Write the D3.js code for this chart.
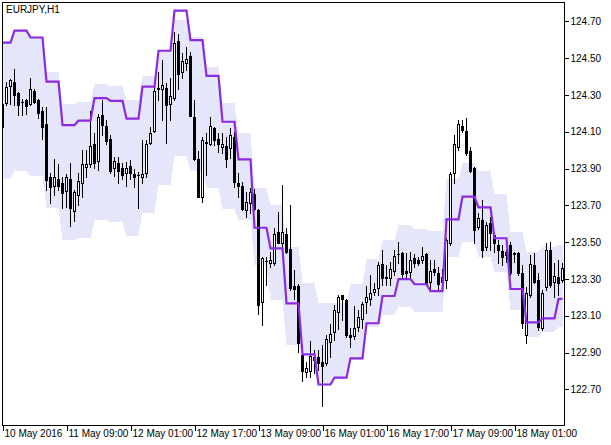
<!DOCTYPE html>
<html><head><meta charset="utf-8">
<script src="https://cdn.jsdelivr.net/npm/d3@7/dist/d3.min.js"></script>
<style>
body{margin:0;background:#fff}
svg{display:block}
text{font-family:"Liberation Sans",Arial,sans-serif;font-size:10px;fill:#000}
</style>
</head><body>
<svg id="chart" width="611" height="445"></svg>
<script>
const symbolLabel = "EURJPY,H1";
const timeLabels = ["10 May 2016","11 May 09:00","12 May 01:00","12 May 17:00","13 May 09:00","16 May 01:00","16 May 17:00","17 May 09:00","18 May 01:00"];
const timeLabelBars = [0,16,32,48,64,80,96,112,128];
const priceTicks = [122.70,122.90,123.10,123.30,123.50,123.70,123.90,124.10,124.30,124.50,124.70];

const opens = [
124.251,124.258,124.350,124.369,124.310,124.262,124.272,124.249,124.321,124.272,
124.213,124.142,123.852,123.805,123.841,123.820,123.779,123.841,123.671,123.758,
123.820,123.910,123.925,124.033,123.939,124.191,124.131,124.062,123.901,123.928,
123.901,123.877,123.914,123.870,123.865,123.852,123.877,124.040,124.102,124.331,
124.331,124.339,124.249,124.283,124.591,124.423,124.472,124.511,124.178,123.952,
123.744,124.044,124.032,124.120,124.060,124.019,124.022,124.010,124.073,123.823,
123.805,123.675,123.711,123.761,123.675,123.173,123.399,123.388,123.388,123.553,
123.494,123.544,123.461,123.262,123.262,122.887,122.792,122.801,122.876,122.874,
122.850,122.841,122.959,123.009,123.122,123.210,123.185,122.995,122.991,123.040,
123.081,123.173,123.189,123.231,123.249,123.379,123.312,123.307,123.343,123.435,
123.439,123.343,123.338,123.412,123.400,123.401,123.435,123.285,123.352,123.331,
123.285,123.294,123.497,123.877,124.019,124.131,124.106,123.997,123.901,123.581,
123.620,123.475,123.602,123.539,123.484,123.453,123.448,123.484,123.439,123.439,
123.331,122.995,123.213,123.376,123.294,123.032,123.258,123.457,123.282,123.309,
123.294];
const highs = [
124.256,124.372,124.387,124.439,124.316,124.278,124.279,124.390,124.331,124.278,
124.233,124.233,123.874,123.950,123.925,123.855,123.870,123.928,123.783,123.877,
124.001,124.001,124.214,124.091,124.196,124.272,124.164,124.081,123.964,123.964,
123.928,123.937,123.946,123.899,123.883,124.055,124.055,124.127,124.345,124.423,
124.490,124.363,124.390,124.640,124.631,124.529,124.560,124.532,124.272,123.997,
124.073,124.095,124.182,124.126,124.091,124.091,124.073,124.119,124.097,123.874,
123.828,123.774,123.792,123.789,123.680,123.421,123.421,123.448,123.575,123.665,
123.810,123.577,123.702,123.348,123.272,122.941,122.848,122.963,122.914,122.914,
122.941,122.995,123.055,123.158,123.213,123.213,123.191,123.032,123.153,123.131,
123.176,123.262,123.321,123.278,123.392,123.457,123.376,123.392,123.457,123.502,
123.448,123.441,123.446,123.435,123.421,123.475,123.439,123.403,123.403,123.366,
123.354,123.522,123.883,124.082,124.164,124.164,124.173,124.019,123.910,123.657,
123.729,123.611,123.638,123.557,123.511,123.484,123.457,123.502,123.448,123.448,
123.376,123.258,123.430,123.439,123.331,123.240,123.494,123.502,123.385,123.403,
123.385];
const lows = [
124.120,124.245,124.251,124.245,124.191,124.191,124.195,124.245,124.254,124.176,
124.059,123.783,123.711,123.756,123.783,123.684,123.689,123.589,123.615,123.702,
123.747,123.852,123.910,123.901,123.892,124.082,124.033,123.874,123.861,123.820,
123.843,123.807,123.843,123.801,123.684,123.820,123.855,124.033,124.098,124.272,
124.164,124.040,124.164,124.272,124.331,124.390,124.435,124.185,123.946,123.744,
123.720,123.865,124.028,124.028,123.991,123.983,123.910,123.956,123.801,123.747,
123.675,123.638,123.660,123.675,123.109,123.050,123.267,123.363,123.376,123.494,
123.475,123.441,123.240,123.189,122.904,122.747,122.767,122.769,122.787,122.805,
122.611,122.832,122.877,122.968,123.028,123.077,122.984,122.932,122.973,123.017,
123.033,123.115,123.158,123.213,123.213,123.267,123.267,123.267,123.321,123.387,
123.312,123.310,123.310,123.366,123.376,123.387,123.267,123.240,123.321,123.240,
123.251,123.251,123.484,123.820,124.001,124.098,123.973,123.881,123.494,123.571,
123.421,123.457,123.457,123.446,123.385,123.376,123.392,123.321,123.392,123.321,
123.032,122.950,123.202,123.276,123.022,123.022,123.240,123.256,123.202,123.213,
123.283];
const closes = [
124.127,124.345,124.379,124.301,124.247,124.259,124.241,124.331,124.260,124.200,
124.127,123.838,123.801,123.852,123.807,123.768,123.852,123.684,123.772,123.831,
123.923,123.923,124.021,123.928,124.182,124.138,124.051,123.888,123.941,123.888,
123.865,123.901,123.877,123.852,123.862,123.870,124.033,124.091,124.321,124.339,
124.352,124.244,124.292,124.580,124.414,124.483,124.497,124.187,123.952,123.747,
124.055,124.041,124.131,124.055,124.032,124.033,123.950,124.081,123.828,123.805,
123.680,123.720,123.774,123.680,123.158,123.412,123.397,123.403,123.544,123.497,
123.553,123.445,123.249,123.245,122.950,122.801,122.814,122.881,122.859,122.841,
122.828,122.972,122.999,123.131,123.199,123.189,122.995,122.983,123.032,123.091,
123.164,123.200,123.222,123.244,123.376,123.303,123.303,123.352,123.425,123.433,
123.327,123.331,123.400,123.385,123.387,123.426,123.279,123.343,123.339,123.271,
123.310,123.512,123.870,124.033,124.142,124.109,123.983,123.888,123.566,123.629,
123.457,123.593,123.551,123.494,123.457,123.421,123.430,123.331,123.438,123.331,
123.059,123.222,123.381,123.285,123.040,123.222,123.457,123.267,123.317,123.279,
123.361];

const bandUpper = [
124.584,124.584,124.584,
124.642,124.642,124.642,124.642,
124.609,124.609,124.609,124.609,
124.423,124.423,124.423,124.423,
124.251,124.251,124.251,124.251,
124.262,124.262,124.262,124.262,
124.359,124.359,124.359,124.359,
124.348,124.348,124.348,124.348,
124.272,124.272,124.272,124.272,
124.403,124.403,124.403,124.403,
124.544,124.544,124.544,124.544,
124.707,124.707,124.707,124.707,
124.616,124.616,124.616,124.616,
124.452,124.452,124.452,124.452,
124.254,124.254,124.254,124.254,
124.091,124.091,124.091,124.091,
123.792,123.792,123.792,123.792,
123.702,123.702,123.702,123.702,
123.475,123.475,123.475,123.475,
123.279,123.279,123.279,123.279,
123.167,123.167,123.167,123.167,
123.167,123.167,123.167,123.167,
123.271,123.271,123.271,123.271,
123.408,123.408,123.408,123.408,
123.511,123.511,123.511,123.511,
123.592,123.592,123.592,123.592,
123.571,123.571,123.571,123.571,
123.560,123.560,123.560,123.560,
123.841,123.841,123.841,123.841,
123.928,123.928,123.928,123.928,
123.888,123.888,123.888,123.888,
123.761,123.761,123.761,123.761,
123.555,123.555,123.555,123.555,
123.448,123.448,123.448,123.448,
123.475,123.475,123.475,123.475,
123.484,123.484];
const bandLower = [
123.843,123.843,123.843,
123.886,123.886,123.886,123.886,
123.859,123.859,123.859,123.859,
123.683,123.683,123.683,123.683,
123.509,123.509,123.509,123.509,
123.522,123.522,123.522,123.522,
123.620,123.620,123.620,123.620,
123.607,123.607,123.607,123.607,
123.533,123.533,123.533,123.533,
123.660,123.660,123.660,123.660,
123.810,123.810,123.810,123.810,
123.968,123.968,123.968,123.968,
123.888,123.888,123.888,123.888,
123.796,123.796,123.796,123.796,
123.680,123.680,123.680,123.680,
123.620,123.620,123.620,123.620,
123.376,123.376,123.376,123.376,
123.185,123.185,123.185,123.185,
122.941,122.941,122.941,122.941,
122.887,122.887,122.887,122.887,
122.723,122.723,122.723,122.723,
122.762,122.762,122.762,122.762,
122.860,122.860,122.860,122.860,
123.039,123.039,123.039,123.039,
123.104,123.104,123.104,123.104,
123.147,123.147,123.147,123.147,
123.122,123.122,123.122,123.122,
123.122,123.122,123.122,123.122,
123.419,123.419,123.419,123.419,
123.501,123.501,123.501,123.501,
123.419,123.419,123.419,123.419,
123.338,123.338,123.338,123.338,
123.131,123.131,123.131,123.131,
122.986,122.986,122.986,122.986,
123.013,123.013,123.013,123.013,
123.040,123.040];
const signalLine = [
124.584,124.584,124.584,
124.649,124.649,124.649,124.649,
124.612,124.612,124.612,124.612,
124.372,124.372,124.372,124.372,
124.136,124.136,124.136,124.136,
124.160,124.160,124.160,124.160,
124.283,124.283,124.283,124.283,
124.268,124.268,124.268,124.268,
124.171,124.171,124.171,124.171,
124.345,124.345,124.345,124.345,
124.540,124.540,124.540,124.540,
124.758,124.758,124.758,124.758,
124.598,124.598,124.598,124.598,
124.403,124.403,124.403,124.403,
124.154,124.154,124.154,124.154,
123.950,123.950,123.950,123.950,
123.578,123.578,123.578,123.578,
123.466,123.466,123.466,123.466,
123.167,123.167,123.167,123.167,
122.890,122.890,122.890,122.890,
122.726,122.726,122.726,122.726,
122.763,122.763,122.763,122.763,
122.868,122.868,122.868,122.868,
123.059,123.059,123.059,123.059,
123.207,123.207,123.207,123.207,
123.299,123.299,123.299,123.299,
123.271,123.271,123.271,123.271,
123.234,123.234,123.234,123.234,
123.624,123.624,123.624,123.624,
123.747,123.747,123.747,123.747,
123.689,123.689,123.689,123.689,
123.521,123.521,123.521,123.521,
123.245,123.245,123.245,123.245,
123.064,123.064,123.064,123.064,
123.086,123.086,123.086,123.086,
123.191,123.191];

const svg = d3.select("#chart");
const L = 2, R = 564, T = 2, B = 425;
const x = d3.scaleLinear().domain([0, 140]).range([2.5, 562.5]);
const y = d3.scaleLinear().domain([122.70, 124.70]).range([389.3, 21.3]);
const bars = d3.range(opens.length);

svg.append("rect").attr("width", 611).attr("height", 445).attr("fill", "#fff");
svg.append("defs").append("clipPath").attr("id", "plot")
  .append("rect").attr("x", L + 1).attr("y", T + 1).attr("width", R - L - 1).attr("height", B - T - 1);

const g = svg.append("g").attr("clip-path", "url(#plot)");

// band
const area = d3.area()
  .x(i => x(i))
  .y0(i => y(bandLower[i]))
  .y1(i => y(bandUpper[i]));
g.append("path").datum(bars).attr("d", area)
  .attr("fill", "#E6E6FA").attr("shape-rendering", "crispEdges");

// candles
const cg = g.append("g");
bars.forEach(i => {
  const cx = x(i);
  const yo = Math.round(y(opens[i])), yc = Math.round(y(closes[i]));
  const yh = Math.round(y(highs[i])), yl = Math.round(y(lows[i]));
  const top = Math.min(yo, yc), bot = Math.max(yo, yc);
  cg.append("line").attr("x1", cx).attr("x2", cx).attr("y1", yh).attr("y2", yl + 1)
    .attr("stroke", "#000").attr("stroke-width", 1).attr("shape-rendering", "crispEdges");
  if (closes[i] < opens[i]) {
    cg.append("rect").attr("x", cx - 1.5).attr("y", top).attr("width", 3).attr("height", Math.max(1, bot - top + 1))
      .attr("fill", "#000").attr("shape-rendering", "crispEdges");
  } else {
    cg.append("rect").attr("x", cx - 1).attr("y", top + 0.5).attr("width", 2).attr("height", Math.max(0, bot - top))
      .attr("fill", "#fff").attr("stroke", "#000").attr("stroke-width", 1).attr("shape-rendering", "crispEdges");
  }
});

// signal line
const line = d3.line().x(i => x(i)).y(i => y(signalLine[i]));
g.append("path").datum(bars).attr("d", line)
  .attr("fill", "none").attr("stroke", "#8A2BE2").attr("stroke-width", 2.2)
  .attr("stroke-linejoin", "miter");

// frame
svg.append("rect").attr("x", L + 0.5).attr("y", T + 0.5).attr("width", R - L).attr("height", B - T)
  .attr("fill", "none").attr("stroke", "#000").attr("stroke-width", 1).attr("shape-rendering", "crispEdges");

// price axis
const ya = svg.append("g").attr("transform", `translate(${R + 0.5},0)`)
  .call(d3.axisRight(y).tickValues(priceTicks).tickSize(4).tickPadding(2).tickFormat(d3.format(".2f")));
ya.select(".domain").remove();
ya.selectAll(".tick line").attr("stroke", "#000").attr("shape-rendering", "crispEdges");
ya.selectAll(".tick text").attr("font-family", "Liberation Sans, Arial, sans-serif").attr("font-size", 10).attr("fill", "#000");

// time axis
const xa = svg.append("g").attr("transform", `translate(0,${B + 0.5})`)
  .call(d3.axisBottom(x).tickValues(timeLabelBars).tickSize(5).tickFormat((d, k) => timeLabels[k]));
xa.select(".domain").remove();
xa.selectAll(".tick line").attr("stroke", "#000").attr("shape-rendering", "crispEdges");
xa.selectAll(".tick text").attr("text-anchor", "start").attr("x", 1.5).attr("dy", "0.71em").attr("y", 4)
  .attr("font-family", "Liberation Sans, Arial, sans-serif").attr("font-size", 9.4).attr("fill", "#000");

svg.append("text").attr("x", 6).attr("y", 13).attr("font-size", 9.8).text(symbolLabel);
</script>
</body></html>
